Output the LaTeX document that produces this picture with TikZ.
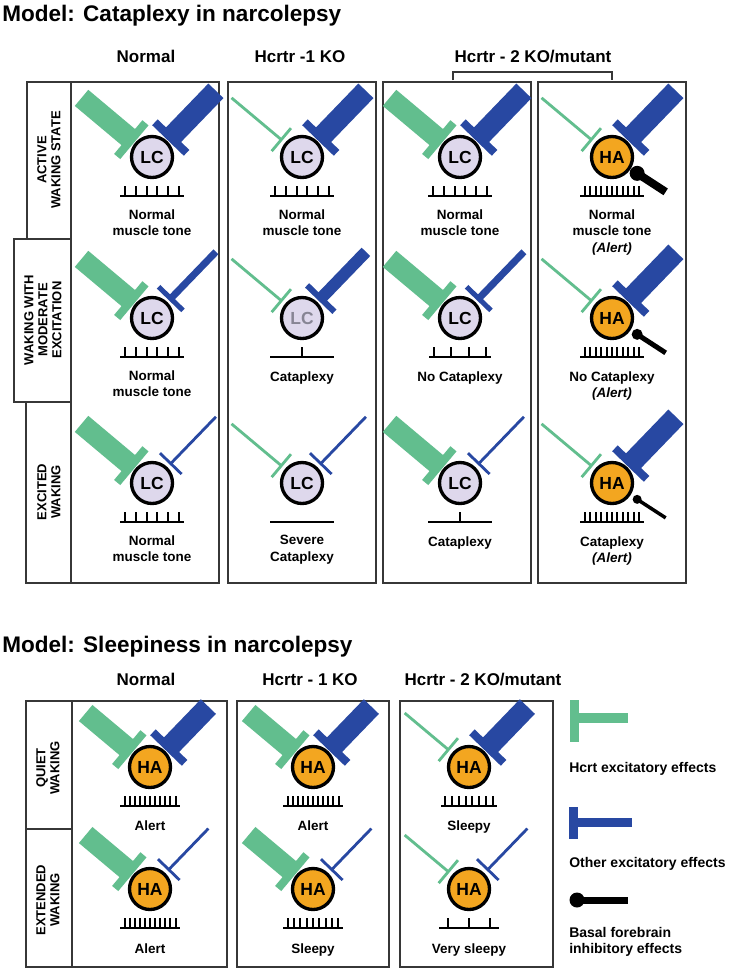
\documentclass[tikz,border=0pt]{standalone}
\usepackage{fontspec}
\setmainfont{Liberation Sans}
\usetikzlibrary{calc}
\definecolor{hgreen}{RGB}{98,190,142}
\definecolor{oblue}{RGB}{40,72,162}
\definecolor{lcfill}{RGB}{222,216,236}
\definecolor{hafill}{RGB}{243,166,32}
\definecolor{boxc}{RGB}{55,55,55}
\definecolor{lcgray}{RGB}{135,133,148}

% arm: node, angle, colour, bar width, crossbar length, crossbar thickness, end distance (px)
\newcommand\excit[7]{%
  \draw[#3, line width=#4*0.75pt] ($(#1)+(#2:27)$) -- ($(#1)+(#2:#7)$);
  \draw[#3, line width=#6*0.75pt] ($(#1)+(#2:27)+({#2+90}:{#5/2})$) -- ($(#1)+(#2:27)+({#2-90}:{#5/2})$);
}
\newcommand\armGT[1]{\excit{#1}{-140}{hgreen}{21}{44}{8}{\alen}}
\newcommand\armGt[1]{\excit{#1}{-140}{hgreen}{2.8}{30}{2.8}{\alen}}
\newcommand\armBT[1]{\excit{#1}{-46}{oblue}{21}{44}{8}{\alen}}
\newcommand\armBM[1]{\excit{#1}{-46}{oblue}{12}{38}{6}{\alen}}
\newcommand\armBm[1]{\excit{#1}{-46}{oblue}{7}{34}{5}{\alen}}
\newcommand\armBt[1]{\excit{#1}{-46}{oblue}{2.8}{30}{2.8}{\alen}}
% lollipop: node, ball radius, bar width
\newcommand\lolli[3]{%
  \draw[black, line width=#3*0.75pt] ($(#1)+(33:30)$) -- ($(#1)+(33:64)$);
  \fill[black] ($(#1)+(33:30)$) circle[radius=#2];
}
% spikes: node, half length, number of ticks, spacing
\newcommand\spk[4]{%
  \draw[baseln] ($(#1)+(-#2,39)$) -- ($(#1)+(#2,39)$);
  \ifnum#3>0
    \foreach \k in {1,...,#3}{\draw[tickln] ($(#1)+({(\k-(#3+1)/2)*#4},39)$) -- ++(0,-10);}
  \fi
}

\begin{document}
\begin{tikzpicture}[x=0.75pt,y=-0.75pt,
  box/.style={draw=boxc, line width=1.1pt},
  nrn/.style={circle, draw=black, line width=2.5pt, minimum size=30.75pt, inner sep=0pt, font=\fontsize{13.1}{15}\selectfont\bfseries},
  lc/.style={nrn, fill=lcfill},
  ha/.style={nrn, fill=hafill},
  ctext/.style={anchor=north, inner sep=0pt, align=center, font=\fontsize{10.1}{12.4}\selectfont\bfseries},
  hdr/.style={anchor=base, inner sep=0pt, font=\fontsize{12.75}{15}\selectfont\bfseries},
  ttl/.style={anchor=base west, inner sep=0pt, font=\fontsize{16.9}{20}\selectfont\bfseries},
  rlab/.style={rotate=90, align=center, inner sep=0pt, font=\fontsize{9.75}{10.5}\selectfont\bfseries},
  lgtext/.style={anchor=north west, inner sep=0pt, align=left, font=\fontsize{10.5}{12}\selectfont\bfseries},
  baseln/.style={line width=1.1pt, black},
  tickln/.style={line width=1.5pt, black},
  bracket/.style={draw=boxc, line width=1.1pt}
]
\useasboundingbox[fill=white] (0,0) rectangle (735,975);

% ---------- titles and headers ----------
\node[ttl] (title1) at (2,21) {Model: Cataplexy in narcolepsy};
\node[hdr] (h1) at (146,62) {Normal};
\node[hdr] (h2) at (300,62) {Hcrtr -1 KO};
\node[hdr] (h3) at (533,62) {Hcrtr - 2 KO/mutant};
\coordinate (brA) at (453,80);
\coordinate (brB) at (612,80);
\draw[bracket] (brA) -- ++(0,-8) -| (brB);

% ---------- top boxes ----------
\draw[box] (27,82) rectangle (71,239);
\draw[box] (14,239) rectangle (71,402);
\draw[box] (26,402) rectangle (71,583);
\draw[box] (71,82) rectangle (219,583);
\draw[box] (228,82) rectangle (376,583);
\draw[box] (383,82) rectangle (531,583);
\draw[box] (538,82) rectangle (686,583);
\node[rlab] (rl1) at (49,160) {ACTIVE\\WAKING STATE};
\node[rlab] (rl2) at (43,320) {WAKING WITH\\MODERATE\\EXCITATION};
\node[rlab] (rl3) at (49,492) {EXCITED\\WAKING};

\def\alen{92}
% row 1
\node[lc] (n11) at (152,157) {LC};
\node[lc] (n12) at (302,157) {LC};
\node[lc] (n13) at (460,157) {LC};
\node[ha] (n14) at (612,157) {HA};
\armGT{n11}\armBT{n11}
\armGt{n12}\armBT{n12}
\armGT{n13}\armBT{n13}
\armGt{n14}\armBT{n14}\lolli{n14}{7.5}{8}
\spk{n11}{32}{6}{10.8}
\spk{n12}{32}{6}{10.8}
\spk{n13}{32}{6}{10.8}
\spk{n14}{32}{11}{5.4}
\node[ctext] (t11) at ($(n11)+(0,52)$) {Normal\\muscle tone};
\node[ctext] (t12) at ($(n12)+(0,52)$) {Normal\\muscle tone};
\node[ctext] (t13) at ($(n13)+(0,52)$) {Normal\\muscle tone};
\node[ctext] (t14) at ($(n14)+(0,52)$) {Normal\\muscle tone\\\textit{(Alert)}};

% row 2
\node[lc] (n21) at (152,318) {LC};
\node[lc, text=lcgray] (n22) at (302,318) {LC};
\node[lc] (n23) at (460,318) {LC};
\node[ha] (n24) at (612,318) {HA};
\armGT{n21}\armBm{n21}
\armGt{n22}\armBM{n22}
\armGT{n23}\armBm{n23}
\armGt{n24}\armBT{n24}\lolli{n24}{5.5}{5}
\spk{n21}{32}{6}{10.8}
\spk{n22}{32}{1}{10}
\spk{n23}{31}{4}{17.6}
\spk{n24}{32}{11}{5.4}
\node[ctext] (t21) at ($(n21)+(0,52)$) {Normal\\muscle tone};
\node[ctext] (t22) at ($(n22)+(0,53)$) {Cataplexy};
\node[ctext] (t23) at ($(n23)+(0,53)$) {No Cataplexy};
\node[ctext] (t24) at ($(n24)+(0,53)$) {No Cataplexy\\\textit{(Alert)}};

% row 3
\node[lc] (n31) at (152,483) {LC};
\node[lc] (n32) at (302,483) {LC};
\node[lc] (n33) at (460,483) {LC};
\node[ha] (n34) at (612,483) {HA};
\armGT{n31}\armBt{n31}
\armGt{n32}\armBt{n32}
\armGT{n33}\armBt{n33}
\armGt{n34}\armBT{n34}\lolli{n34}{4.5}{3.5}
\spk{n31}{32}{6}{10.8}
\spk{n32}{32}{0}{10}
\spk{n33}{32}{1}{10}
\spk{n34}{32}{11}{5.4}
\node[ctext] (t31) at ($(n31)+(0,52)$) {Normal\\muscle tone};
\node[ctext] (t32) at ($(n32)+(0,52)$) {Severe\\Cataplexy};
\node[ctext] (t33) at ($(n33)+(0,53)$) {Cataplexy};
\node[ctext] (t34) at ($(n34)+(0,53)$) {Cataplexy\\\textit{(Alert)}};

% ---------- bottom model ----------
\node[ttl] (title2) at (2,652) {Model: Sleepiness in narcolepsy};
\node[hdr] (g1) at (146,685) {Normal};
\node[hdr] (g2) at (310,685) {Hcrtr - 1 KO};
\node[hdr] (g3) at (483,685) {Hcrtr - 2 KO/mutant};

\draw[box] (26,701) rectangle (72,829);
\draw[box] (26,829) rectangle (72,967);
\draw[box] (72,701) rectangle (227,967);
\draw[box] (237,701) rectangle (389,967);
\draw[box] (400,701) rectangle (553,967);
\node[rlab] (sl1) at (48,768) {QUIET\\WAKING};
\node[rlab] (sl2) at (48,900) {EXTENDED\\WAKING};

\def\alen{84}
\node[ha] (b11) at (150,767) {HA};
\node[ha] (b12) at (313,767) {HA};
\node[ha] (b13) at (469,767) {HA};
\node[ha] (b21) at (150,889) {HA};
\node[ha] (b22) at (313,889) {HA};
\node[ha] (b23) at (469,889) {HA};
\armGT{b11}\armBT{b11}
\armGT{b12}\armBT{b12}
\armGt{b13}\armBT{b13}
\armGT{b21}\armBt{b21}
\armGT{b22}\armBt{b22}
\armGt{b23}\armBt{b23}
\spk{b11}{30}{11}{5.1}
\spk{b12}{30}{11}{5.1}
\spk{b13}{28}{8}{6.9}
\spk{b21}{30}{11}{5.1}
\spk{b22}{30}{9}{6.3}
\spk{b23}{30}{3}{21}
\node[ctext] (u11) at ($(b11)+(0,53)$) {Alert};
\node[ctext] (u12) at ($(b12)+(0,53)$) {Alert};
\node[ctext] (u13) at ($(b13)+(0,53)$) {Sleepy};
\node[ctext] (u21) at ($(b21)+(0,54)$) {Alert};
\node[ctext] (u22) at ($(b22)+(0,54)$) {Sleepy};
\node[ctext] (u23) at ($(b23)+(0,54)$) {Very sleepy};

% ---------- legend ----------
\fill[hgreen] (570,700) rectangle (579,742);
\fill[hgreen] (579,713) rectangle (628,723);
\node[lgtext] (lg1) at (569,762) {Hcrt excitatory effects};
\fill[oblue] (569,807) rectangle (578,839);
\fill[oblue] (578,818) rectangle (632,827);
\node[lgtext] (lg2) at (569,857) {Other excitatory effects};
\draw[black, line width=5.25pt] (577,900) -- (628,900);
\fill[black] (577,900) circle[radius=7.5];
\node[lgtext] (lg3) at (569,927) {Basal forebrain\\inhibitory effects};
\end{tikzpicture}
\end{document}
